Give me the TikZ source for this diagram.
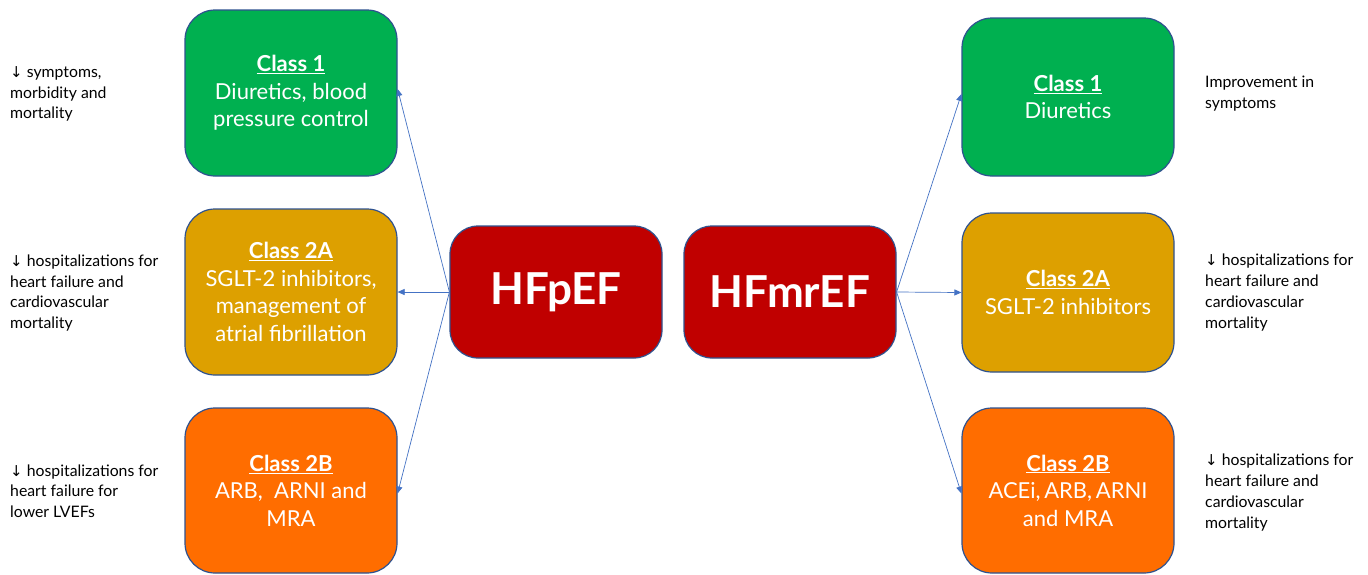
\documentclass[tikz,border=0pt]{standalone}
\usepackage{fontspec}
\setmainfont{Lato}
\newfontfamily\symfont{DejaVu Sans}
\usetikzlibrary{arrows.meta}

\definecolor{edgeblue}{HTML}{2F528F}
\definecolor{arrowblue}{HTML}{4472C4}
\definecolor{clsone}{HTML}{00B050}
\definecolor{clstwoa}{HTML}{DDA000}
\definecolor{clstwob}{HTML}{FF6D00}
\definecolor{hfred}{HTML}{C00000}

\newcommand{\dn}{{\symfont\fontsize{15}{15}\selectfont ↓}}
\newcommand{\hd}[1]{\underline{\textbf{#1}}}

\tikzset{
  box/.style={draw=edgeblue, line width=1.2pt, rounded corners=30pt,
    text=white, align=center, inner sep=0pt, minimum width=212pt,
    font=\fontsize{22}{27.5}\selectfont},
  hfbox/.style={box, fill=hfred, rounded corners=28pt, minimum height=132pt,
    font=\fontsize{44}{48}\selectfont\bfseries},
  note/.style={anchor=west, align=left, inner sep=0pt, text=black,
    font=\fontsize{15.8}{20.7}\selectfont},
  arr/.style={draw=arrowblue, line width=0.7pt,
    -{Triangle[length=7pt,width=6pt]}}
}

\begin{document}
\begin{tikzpicture}[x=1pt,y=-1pt]
\useasboundingbox[fill=white] (0,0) rectangle (1368,574);

% central conditions
\node[hfbox] (hfp) at (556,292) {HFpEF};
\node[hfbox] (hfm) at (790,292) {HFmrEF};

% left column: HFpEF recommendations
\node[box, fill=clsone, minimum height=166pt] (l1) at (291,93)
  {\hd{Class 1}\\Diuretics, blood\\pressure control};
\node[box, fill=clstwoa, minimum height=166pt] (l2) at (291,292)
  {\hd{Class 2A}\\SGLT-2 inhibitors,\\management of\\atrial fibrillation};
\node[box, fill=clstwob, minimum height=165pt] (l3) at (291,490.5)
  {\hd{Class 2B}\\ARB,\ \ ARNI and\\MRA};

% right column: HFmrEF recommendations
\node[box, fill=clsone, minimum height=158pt] (r1) at (1068,97)
  {\hd{Class 1}\\Diuretics};
\node[box, fill=clstwoa, minimum height=159pt] (r2) at (1068,292.5)
  {\hd{Class 2A}\\SGLT-2 inhibitors};
\node[box, fill=clstwob, minimum height=165pt] (r3) at (1068,490.5)
  {\hd{Class 2B}\\ACEi,\,ARB,\,ARNI\\and MRA};

% outcomes
\node[note] (n1) at (10,94)
  {\dn\ symptoms,\\morbidity and\\mortality};
\node[note] (n2) at (10,293)
  {\dn\ hospitalizations for\\heart failure and\\cardiovascular\\mortality};
\node[note] (n3) at (10,491)
  {\dn\ hospitalizations for\\heart failure for\\lower LVEFs};
\node[note] (n4) at (1205,93.5)
  {Improvement in\\symptoms};
\node[note] (n5) at (1205,292.5)
  {\dn\ hospitalizations for\\heart failure and\\cardiovascular\\mortality};
\node[note] (n6) at (1205,492.5)
  {\dn\ hospitalizations for\\heart failure and\\cardiovascular\\mortality};

% connectors
\draw[arr] (hfp.west) -- ([yshift=4pt]l1.east);
\draw[arr] (hfp.west) -- (l2.east);
\draw[arr] (hfp.west) -- ([yshift=-3pt]l3.east);
\draw[arr] (hfm.east) -- ([yshift=3pt]r1.west);
\draw[arr] (hfm.east) -- (r2.west);
\draw[arr] (hfm.east) -- ([yshift=-3pt]r3.west);
\end{tikzpicture}
\end{document}
